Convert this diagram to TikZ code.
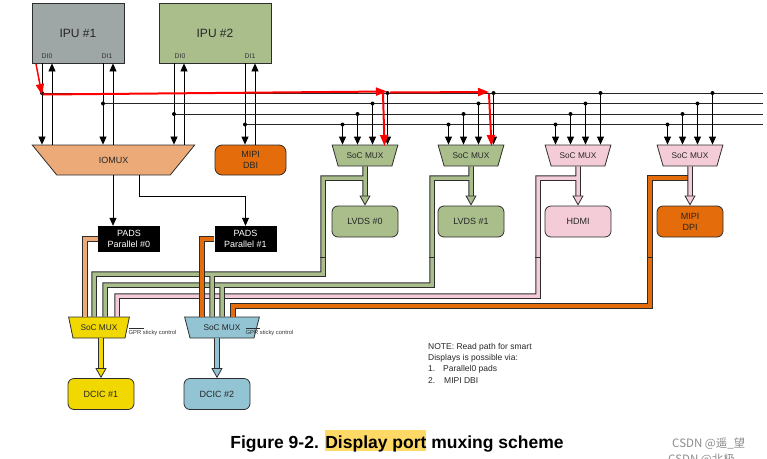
\documentclass[tikz,border=0pt]{standalone}
\usepackage{fontspec}
\setmainfont{Liberation Sans}
\newfontfamily\cjkfont{Noto Sans CJK SC}
\usetikzlibrary{arrows.meta}
\usetikzlibrary{shapes.geometric}

\definecolor{ipugray}{RGB}{158,167,166}
\definecolor{socgreen}{RGB}{170,190,140}
\definecolor{ioorange}{RGB}{235,170,120}
\definecolor{mipiorange}{RGB}{228,108,10}
\definecolor{hdmipink}{RGB}{244,204,216}
\definecolor{dcicyellow}{RGB}{240,216,0}
\definecolor{dcicblue}{RGB}{146,196,212}
\definecolor{markyellow}{RGB}{255,217,102}
\definecolor{edge}{RGB}{45,45,45}

\newcommand{\hilite}[1]{\setbox0\hbox{#1}\rlap{\color{markyellow}\rule[-2.5pt]{\wd0}{20.5pt}}\box0\relax}

\begin{document}
\begin{tikzpicture}[x=1pt, y=-1pt,
    box/.style={draw=edge, line width=0.8pt, text=black!85, font=\fontsize{9}{11}\selectfont, align=center, inner sep=0pt},
    ipubox/.style={box, font=\fontsize{12}{14}\selectfont, minimum height=60},
    outbox/.style={box, rounded corners=6pt, minimum width=66, minimum height=31},
    mux/.style={box, trapezium, shape border rotate=180, trapezium stretches=true, minimum height=21, font=\fontsize{8.3}{9}\selectfont},
    pads/.style={fill=black, text=white, font=\fontsize{9}{11}\selectfont, align=center, minimum width=62, minimum height=26, inner sep=0pt},
    dilabel/.style={font=\fontsize{6.8}{7}\selectfont, text=black!80, inner sep=0pt},
    gpr/.style={font=\fontsize{5.8}{6}\selectfont, text=black!80, inner sep=0pt, anchor=north west},
    sig/.style={draw=black, line width=0.8pt, -{Triangle[length=8pt,width=7pt]}},
    bus/.style={draw=black!85, line width=1pt},
    pipe/.style={draw=edge, line width=1pt, double=#1, double distance=3.5pt},
    pipetip/.style={draw=edge, line width=0.8pt, -{Triangle[length=10pt,width=11pt,fill=#1]}},
    redmark/.style={draw=red, line width=2pt, -{Triangle[length=11pt,width=8pt]}}]
  \useasboundingbox (0,0) rectangle (767,458);

  % IPUs and their display interfaces
  \node[ipubox, fill=ipugray, minimum width=92] (ipu1) at (78,33) {IPU \#1};
  \node[ipubox, fill=socgreen, minimum width=112] (ipu2) at (215,33) {IPU \#2};
  \node[dilabel] (ipu1di0) at (47,56) {DI0};
  \node[dilabel] (ipu1di1) at (107,56) {DI1};
  \node[dilabel] (ipu2di0) at (180,56) {DI0};
  \node[dilabel] (ipu2di1) at (250,56) {DI1};

  \node[mux, trapezium angle=45, minimum width=163, minimum height=30, fill=ioorange, font=\fontsize{9}{10}\selectfont] (iomux) at (113.5,160) {IOMUX};
  \node[box, rounded corners=7pt, minimum width=71, minimum height=30, fill=mipiorange] (mipidbi) at (250.5,160) {MIPI\\DBI};

  \foreach \xa/\xb/\src in {42/52/ipu1, 103/113/ipu1, 174/184/ipu2} {
    \draw[sig] (\xa,0 |- \src.south) -- (\xa,0 |- iomux.north);
    \draw[sig] (\xb,0 |- iomux.north) -- (\xb,0 |- \src.south);
  }
  \draw[sig] (245,0 |- ipu2.south) -- (245,0 |- mipidbi.north);
  \draw[sig] (255,0 |- mipidbi.north) -- (255,0 |- ipu2.south);

  % display bus
  \coordinate (bus1) at (42,93);
  \coordinate (bus2) at (103,103.5);
  \coordinate (bus3) at (174,114);
  \coordinate (bus4) at (245,124.5);
  \coordinate (busend) at (763,0);
  \foreach \b in {1,...,4} {
    \draw[bus] (bus\b) -- (bus\b -| busend);
    \fill (bus\b) circle (2pt);
  }

  % SoC muxes and outputs
  \foreach \name/\cx/\col in {mux1/365/socgreen, mux2/471/socgreen, mux3/578/hdmipink, mux4/690/hdmipink}
    \node[mux, trapezium angle=55, minimum width=66, fill=\col] (\name) at (\cx,155.5) {SoC MUX};
  \foreach \name/\cx in {mux1/365, mux2/471, mux3/578, mux4/690}
    \foreach \dx/\b in {-22.5/4, -7.5/3, 7.5/2, 22.5/1} {
      \pgfmathsetmacro\xx{\cx+\dx}
      \fill (\xx,0 |- bus\b) circle (2pt);
      \draw[sig] (\xx,0 |- bus\b) -- (\xx,0 |- \name.north);
    }

  \node[outbox, fill=socgreen] (lvds0) at (365,221.5) {LVDS \#0};
  \node[outbox, fill=socgreen] (lvds1) at (471,221.5) {LVDS \#1};
  \node[outbox, fill=hdmipink] (hdmi) at (578,221.5) {HDMI};
  \node[outbox, fill=mipiorange] (mipidpi) at (690,221.5) {MIPI\\DPI};

  % pads
  \node[pads] (pads0) at (129,239) {PADS\\Parallel \#0};
  \node[pads] (pads1) at (245.5,239) {PADS\\Parallel \#1};
  \draw[sig] (113,0 |- iomux.south) -- (113,0 |- pads0.north);
  \draw[sig] (139,0 |- iomux.south) -- (139,196) -| (pads1.north);

  % DCIC muxes
  \node[mux, trapezium angle=62, minimum width=61, fill=dcicyellow] (ymux) at (99,327.5) {SoC MUX};
  \node[mux, trapezium angle=62, minimum width=75, fill=dcicblue] (bmux) at (222,327.5) {SoC MUX};
  \node[outbox, fill=dcicyellow] (dcic1) at (101,394) {DCIC \#1};
  \node[outbox, fill=dcicblue] (dcic2) at (217,394) {DCIC \#2};

  \draw[edge, line width=0.7pt] (129,328) -- (144,328);
  \node[gpr] (gpr1) at (128.5,330.5) {GPR sticky control};
  \draw[edge, line width=0.7pt] (246,328) -- (260,328);
  \node[gpr] (gpr2) at (245.5,330.5) {GPR sticky control};

  % pipes
  \draw[pipe=mipiorange] (mux4.south |- 0,178) -| (650,306) -| (233,0 |- bmux.north);
  \draw[pipe=hdmipink, shorten >=9pt] (mux4.south) -- (mipidpi.north);
  \draw[pipe=hdmipink, shorten >=9pt] (mux3.south |- 0,178) -| (538,296) -| (117,0 |- ymux.north)
    (mux3.south) -- (hdmi.north);
  \draw[pipe=socgreen, shorten >=9pt] (mux2.south |- 0,178) -| (432,285) -| (105,0 |- ymux.north)
    (222,285) -- (222,0 |- bmux.north)
    (mux2.south) -- (lvds1.north);
  \draw[pipe=socgreen, shorten >=9pt] (mux1.south |- 0,178) -| (323,274) -| (94,0 |- ymux.north)
    (212,274) -- (212,0 |- bmux.north)
    (mux1.south) -- (lvds0.north);
  \draw[pipe=ioorange] (pads0.west) -| (85,0 |- ymux.north);
  \draw[pipe=mipiorange] (pads1.west) -| (202,0 |- bmux.north);
  \draw[pipe=dcicyellow, shorten >=9pt] (dcic1.north |- ymux.south) -- (dcic1.north);
  \draw[pipe=dcicblue, shorten >=9pt] (dcic2.north |- bmux.south) -- (dcic2.north);
  \foreach \xx in {323,432,538,650}
    \draw[edge, line width=0.6pt] (\xx-3,257) -- (\xx+3,257);

  \foreach \dst/\col in {lvds0/socgreen, lvds1/socgreen, hdmi/hdmipink, mipidpi/hdmipink, dcic1/dcicyellow, dcic2/dcicblue}
    \draw[pipetip=\col] ([yshift=10pt]\dst.north) -- (\dst.north);

  % red marks
  \coordinate (r0) at (36,64);
  \coordinate (r1) at (42,95);
  \coordinate (r2) at (387,91.5);
  \coordinate (r3) at (489,92);
  \draw[redmark, line width=1.5pt] (r0) -- (r1);
  \draw[redmark] (43,94.5) -- (r2);
  \draw[redmark] (383,93) -- (384.5,146);
  \draw[redmark] (390,92.5) -- (r3);
  \draw[redmark] (489,94) -- (491.5,146);

  % note and caption
  \node[anchor=north west, align=left, font=\fontsize{8.5}{11.3}\selectfont, text=black!85, inner sep=0pt] (note) at (428,342.8)
    {NOTE: Read path for smart\\Displays is possible via:\\\makebox[15pt][l]{1.}Parallel0 pads\\\makebox[16pt][l]{2.}MIPI DBI};
  \node[anchor=base, font=\fontsize{17.5}{20}\selectfont\bfseries] (caption) at (397,448.3)
    {Figure 9-2. \hilite{Display port} muxing scheme};
  \node[anchor=base west, font=\cjkfont\fontsize{11.5}{13}\selectfont, text=black!45, inner sep=0pt] (mark1) at (672,447) {CSDN @遥\_望};
  \node[anchor=base west, font=\cjkfont\fontsize{11.5}{13}\selectfont, text=black!45, inner sep=0pt] (mark2) at (668,463) {CSDN @北极……};
\end{tikzpicture}
\end{document}
